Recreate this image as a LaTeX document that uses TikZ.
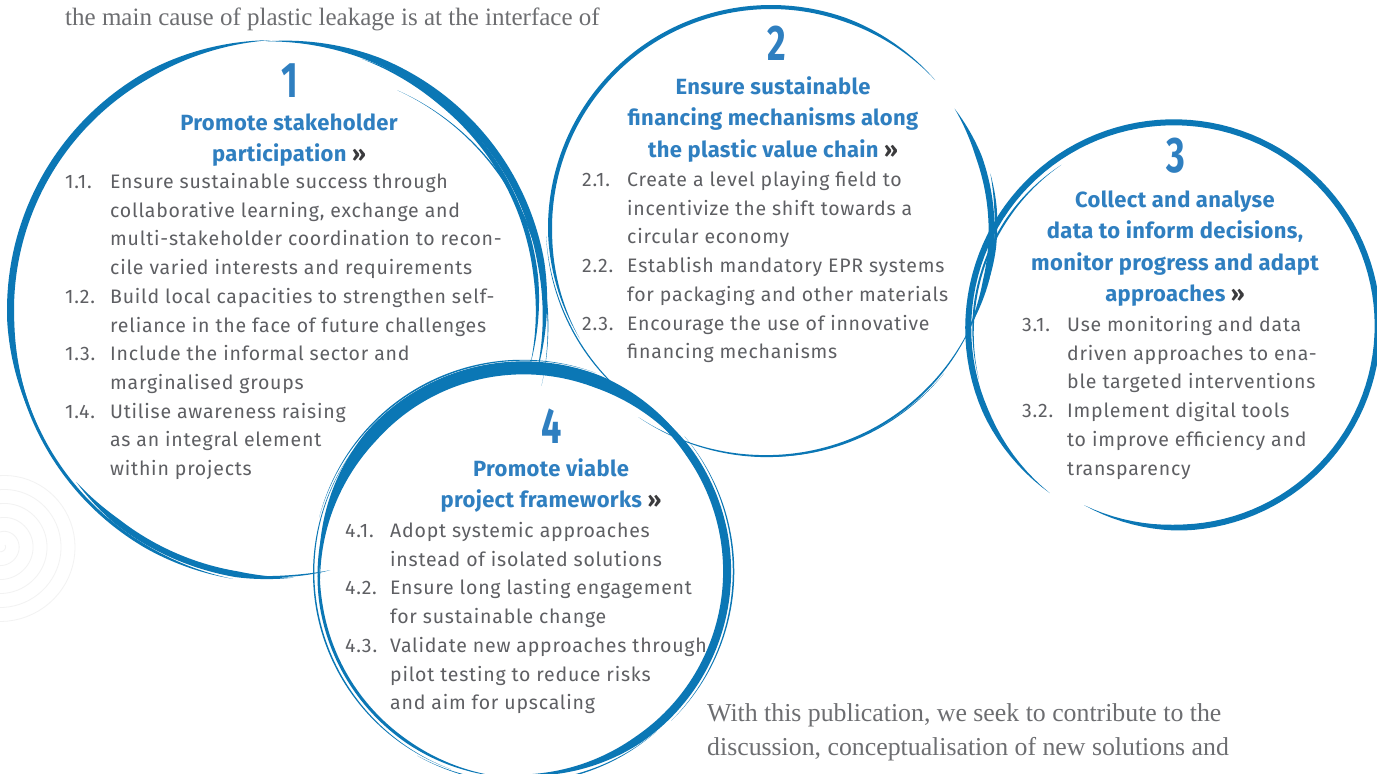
\documentclass[tikz,border=0pt]{standalone}
\usepackage{fontspec}
\usepackage{graphicx}
\setmainfont{Fira Sans}
\newfontfamily\bodyfont[LetterSpace=4]{Fira Sans}
\newfontfamily\titlefont[LetterSpace=1.5]{Fira Sans}
\newfontfamily\seriffont{Liberation Serif}
\definecolor{bblue}{HTML}{0B77B5}
\definecolor{tblue}{HTML}{2F7FC0}
\definecolor{bgrey}{HTML}{5E5F63}
\definecolor{sgrey}{HTML}{6D6E71}
\definecolor{dgrey}{HTML}{3B3B3D}
% brush stroke: cx cy R1 R2 a1 a2 width plateau
\newcommand\brush[8]{%
 \fill[bblue] plot[domain=#5:#6,samples=120,variable=\t]
  ({#1+(#3+((#4)-(#3))*((\t-(#5))/((#6)-(#5)))+0.5*(#7)*min(1,(#8)*abs(sin(180*((\t-(#5))/((#6)-(#5)))))))*cos(\t)},
   {#2+(#3+((#4)-(#3))*((\t-(#5))/((#6)-(#5)))+0.5*(#7)*min(1,(#8)*abs(sin(180*((\t-(#5))/((#6)-(#5)))))))*sin(\t)})
  -- plot[domain=#6:#5,samples=120,variable=\t]
  ({#1+(#3+((#4)-(#3))*((\t-(#5))/((#6)-(#5)))-0.5*(#7)*min(1,(#8)*abs(sin(180*((\t-(#5))/((#6)-(#5)))))))*cos(\t)},
   {#2+(#3+((#4)-(#3))*((\t-(#5))/((#6)-(#5)))-0.5*(#7)*min(1,(#8)*abs(sin(180*((\t-(#5))/((#6)-(#5)))))))*sin(\t)})
  -- cycle;}
\newcommand\itm[1]{\makebox[45pt][l]{#1}}
\newcommand\gtt{\textcolor{dgrey}{»}}
\newcommand\dig[1]{\scalebox{0.72}[1]{#1}}
\tikzset{
 items/.style={font=\bodyfont\fontsize{19.5}{28.7}\selectfont, text=bgrey, inner sep=0pt, anchor=base west},
 ttl/.style={font=\titlefont\fontsize{22}{31.5}\selectfont\bfseries, text=tblue, inner sep=0pt, anchor=base},
 num/.style={font=\fontsize{50}{50}\selectfont\bfseries, text=tblue, inner sep=0pt, anchor=base},
 note/.style={font=\seriffont\fontsize{25}{34}\selectfont, text=sgrey, inner sep=0pt, anchor=base west},
 note2/.style={note, font=\seriffont\fontsize{25.8}{34}\selectfont}
}
\begin{document}
\begin{tikzpicture}[x=1pt,y=-1pt]
\useasboundingbox (0,0) rectangle (1377,774);
\clip (0,0) rectangle (1377,774);
\fill[white] (0,0) rectangle (1377,774);
% faint spiral
\draw[black!5, line width=0.8pt] plot[domain=0:1980, samples=400, variable=\t]
  ({2+(3+\t/360*14)*cos(\t)}, {545+(3+\t/360*14)*sin(\t)});
% circle 1
\brush{280}{311}{269}{271}{150}{268}{7}{1.5}
\brush{280}{311}{272}{268}{100}{185}{3}{1.5}
\brush{280}{311}{267}{266}{87}{140}{6}{1.5}
\brush{280}{311}{264}{266}{79}{95}{1.5}{1}
\brush{280}{311}{270}{264}{-93}{14}{7}{1.5}
\brush{280}{311}{265}{256}{-72}{12}{4.5}{1.5}
\brush{280}{311}{250}{272}{-62}{16}{1.5}{1}
% circle 2
\brush{771}{228}{221}{221}{150}{318}{4}{2}
\brush{771}{228}{219}{222}{-33}{28}{6}{1.5}
\brush{771}{228}{226}{224}{-14}{14}{2.5}{1.2}
\brush{771}{228}{222}{231}{18}{125}{2}{1.2}
\brush{771}{228}{226}{229}{40}{100}{1.2}{1}
\brush{771}{228}{221}{225}{118}{178}{1.2}{1}
% circle 3
\brush{1175}{327}{208}{200}{-233}{117}{6}{4}
\brush{1175}{327}{203}{198}{165}{235}{2}{1.2}
% circle 4
\brush{523}{572}{203}{205}{178}{335}{13}{1.3}
\brush{523}{572}{205}{203}{285}{455}{8}{1.5}
\brush{523}{572}{206}{204}{95}{200}{3}{1.3}
\brush{523}{572}{210}{209}{110}{215}{1.5}{1}
\brush{523}{572}{211}{212}{195}{290}{1.5}{1}
\brush{523}{572}{211}{210}{-40}{45}{1.5}{1}
\brush{523}{572}{208}{212}{50}{120}{1.5}{1}
% serif notes
\node[note] (n1) at (65,25) {the main cause of plastic leakage is at the interface of};
\node[note2] (n2) at (707,721) {With this publication, we seek to contribute to the};
\node[note2] (n3) at (707,755) {discussion, conceptualisation of new solutions and};
% circle 1 text
\node[num] (k1) at (290,97) {\dig{1}};
\node[ttl] (t1) at (289,130) {\begin{tabular}[t]{@{}c@{}}Promote stakeholder\\participation \gtt\end{tabular}};
\node[items] (l1) at (65,188.5) {\begin{tabular}[t]{@{}l@{}l@{}}
\itm{1.1.}&Ensure sustainable success through\\
&collaborative learning, exchange and\\
&multi-stakeholder coordination to recon-\\
&cile varied interests and requirements\\
\itm{1.2.}&Build local capacities to strengthen self-\\
&reliance in the face of future challenges\\
\itm{1.3.}&Include the informal sector and\\
&marginalised groups\\
\itm{1.4.}&Utilise awareness raising\\
&as an integral element\\
&within projects
\end{tabular}};
% circle 2 text
\node[num] (k2) at (777,60) {\dig{2}};
\node[ttl] (t2) at (773,94) {\begin{tabular}[t]{@{}c@{}}Ensure sustainable\\financing mechanisms along\\the plastic value chain \gtt\end{tabular}};
\node[items] (l2) at (582,186.5) {\begin{tabular}[t]{@{}l@{}l@{}}
\itm{2.1.}&Create a level playing field to\\
&incentivize the shift towards a\\
&circular economy\\
\itm{2.2.}&Establish mandatory EPR systems\\
&for packaging and other materials\\
\itm{2.3.}&Encourage the use of innovative\\
&financing mechanisms
\end{tabular}};
% circle 3 text
\node[num] (k3) at (1176,172) {\dig{3}};
\node[ttl] (t3) at (1175,207) {\begin{tabular}[t]{@{}c@{}}Collect and analyse\\data to inform decisions,\\monitor progress and adapt\\approaches \gtt\end{tabular}};
\node[items] (l3) at (1022,331.5) {\begin{tabular}[t]{@{}l@{}l@{}}
\itm{3.1.}&Use monitoring and data\\
&driven approaches to ena-\\
&ble targeted interventions\\
\itm{3.2.}&Implement digital tools\\
&to improve efficiency and\\
&transparency
\end{tabular}};
% circle 4 text
\node[num] (k4) at (552,443) {\dig{4}};
\node[ttl] (t4) at (551,476) {\begin{tabular}[t]{@{}c@{}}Promote viable\\project frameworks \gtt\end{tabular}};
\node[items] (l4) at (345,537.5) {\begin{tabular}[t]{@{}l@{}l@{}}
\itm{4.1.}&Adopt systemic approaches\\
&instead of isolated solutions\\
\itm{4.2.}&Ensure long lasting engagement\\
&for sustainable change\\
\itm{4.3.}&Validate new approaches through\\
&pilot testing to reduce risks\\
&and aim for upscaling
\end{tabular}};
\end{tikzpicture}
\end{document}
